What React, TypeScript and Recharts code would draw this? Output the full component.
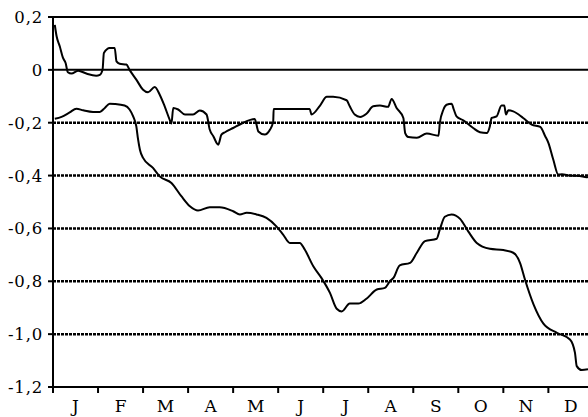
import React from 'react'
import { LineChart, Line, XAxis, YAxis, ReferenceLine } from 'recharts'

// x is measured in months from 1 January (0 = start of J, 11 = start of D)
const MONTHS = ['J', 'F', 'M', 'A', 'M', 'J', 'J', 'A', 'S', 'O', 'N', 'D']
const MONTH_STARTS = [0, 1, 2, 3, 4, 5, 6, 7, 8, 9, 10, 11]
const Y_TICKS = [-1.2, -1, -0.8, -0.6, -0.4, -0.2, 0, 0.2]
const DOTTED_LEVELS = [-1, -0.8, -0.6, -0.4, -0.2]
const SOLID_LEVELS = [0, 0.2]

const upperT = [
  0.04, 0.08, 0.15, 0.22, 0.28, 0.33, 0.41, 0.56, 0.74, 0.96, 1.04, 1.1, 1.13, 1.26, 1.37, 1.41,
  1.48, 1.63, 1.7, 1.85, 2.0, 2.11, 2.26, 2.37, 2.48, 2.59, 2.63, 2.67, 2.78, 2.93, 3.11, 3.26,
  3.41, 3.48, 3.56, 3.67, 3.74, 3.82, 4.0, 4.19, 4.48, 4.56, 4.7, 4.82, 4.89, 4.9, 5.04, 5.7,
  5.74, 5.93, 6.08, 6.22, 6.52, 6.59, 6.7, 6.82, 6.96, 7.11, 7.26, 7.44, 7.52, 7.63, 7.78, 7.82,
  7.89, 8.08, 8.3, 8.56, 8.59, 8.67, 8.74, 8.85, 8.9, 8.96, 9.11, 9.33, 9.48, 9.63, 9.7, 9.74,
  9.85, 9.96, 10.02, 10.06, 10.11, 10.22, 10.44, 10.63, 10.82, 10.93, 11.0, 11.11, 11.22, 11.3,
  11.48, 11.7, 11.85, 11.88,
]
const upperV = [
  0.17, 0.127, 0.089, 0.046, 0.026, -0.009, -0.014, -0.003, -0.014, -0.022, -0.019, 0.0, 0.064,
  0.083, 0.083, 0.032, 0.023, 0.02, 0.0, -0.037, -0.075, -0.085, -0.065, -0.094, -0.138, -0.188,
  -0.203, -0.144, -0.15, -0.169, -0.169, -0.154, -0.169, -0.226, -0.251, -0.283, -0.245, -0.236,
  -0.22, -0.203, -0.186, -0.233, -0.245, -0.226, -0.195, -0.148, -0.148, -0.148, -0.169, -0.135,
  -0.102, -0.102, -0.115, -0.138, -0.169, -0.178, -0.166, -0.138, -0.135, -0.14, -0.11, -0.144,
  -0.182, -0.239, -0.254, -0.257, -0.241, -0.249, -0.201, -0.15, -0.132, -0.128, -0.15, -0.176,
  -0.191, -0.22, -0.236, -0.239, -0.214, -0.182, -0.176, -0.135, -0.135, -0.169, -0.153, -0.157,
  -0.182, -0.207, -0.216, -0.251, -0.276, -0.34, -0.396, -0.395, -0.4, -0.402, -0.406, -0.405,
]

const lowerT = [
  0.04, 0.19, 0.37, 0.52, 0.67, 0.89, 1.04, 1.15, 1.26, 1.37, 1.59, 1.7, 1.78, 1.85, 1.89, 1.93,
  2.0, 2.22, 2.37, 2.63, 2.85, 3.04, 3.22, 3.48, 3.7, 4.0, 4.15, 4.3, 4.52, 4.74, 4.96, 5.11,
  5.26, 5.48, 5.59, 5.78, 5.96, 6.15, 6.3, 6.41, 6.59, 6.78, 6.96, 7.19, 7.37, 7.48, 7.56, 7.7,
  7.93, 8.08, 8.26, 8.52, 8.59, 8.7, 8.85, 9.04, 9.22, 9.41, 9.7, 10.0, 10.22, 10.37, 10.48,
  10.67, 10.89, 11.19, 11.48, 11.59, 11.63, 11.74, 11.88,
]
const lowerV = [
  -0.185, -0.178, -0.161, -0.147, -0.153, -0.159, -0.159, -0.144, -0.128, -0.129, -0.135, -0.15,
  -0.176, -0.214, -0.264, -0.302, -0.333, -0.371, -0.403, -0.428, -0.478, -0.516, -0.532, -0.52,
  -0.52, -0.535, -0.547, -0.541, -0.547, -0.56, -0.592, -0.623, -0.655, -0.655, -0.68, -0.743,
  -0.787, -0.844, -0.904, -0.914, -0.884, -0.884, -0.866, -0.831, -0.825, -0.8, -0.787, -0.74,
  -0.73, -0.692, -0.648, -0.639, -0.604, -0.556, -0.547, -0.564, -0.611, -0.655, -0.677, -0.682,
  -0.692, -0.73, -0.793, -0.887, -0.96, -0.995, -1.02, -1.07, -1.121, -1.136, -1.133,
]

const upper = upperT.map((t, i) => ({ t, v: upperV[i] }))
const lower = lowerT.map((t, i) => ({ t, v: lowerV[i] }))

const font = '"DejaVu Serif", serif'
const HALF_MONTH = 22.5

const fmtY = (v: number) => (v === 0 ? '0' : v.toFixed(1).replace('.', ','))

// month letter sits in the middle of its month, tick mark at its start
const MonthTick = (props: any) => {
  const { x, y, payload } = props
  return (
    <text x={x + HALF_MONTH} y={y + 19} textAnchor="middle" fill="#000" fontSize={17} fontFamily={font}>
      {MONTHS[payload.value]}
    </text>
  )
}

const ValueTick = (props: any) => {
  const { x, y, payload } = props
  return (
    <text x={x} y={y + 6} textAnchor="end" fill="#000" fontSize={16.5} fontFamily={font} letterSpacing={0.8}>
      {fmtY(payload.value)}
    </text>
  )
}

export default function App() {
  return (
    <div style={{ position: 'absolute', left: 0, top: 0, background: '#fff', fontFamily: font }}>
      <LineChart width={588} height={417} margin={{ top: 17, right: 0, bottom: 0, left: 0 }}>
        <XAxis
          type="number"
          dataKey="t"
          domain={[0, 11.88]}
          ticks={MONTH_STARTS}
          interval={0}
          height={30}
          tickSize={6}
          tickMargin={0}
          axisLine={{ stroke: '#000', strokeWidth: 2 }}
          tickLine={{ stroke: '#000', strokeWidth: 2 }}
          tick={<MonthTick />}
        />
        <YAxis
          type="number"
          domain={[-1.2, 0.2]}
          ticks={Y_TICKS}
          interval={0}
          width={53}
          tickSize={5}
          tickMargin={5}
          axisLine={{ stroke: '#000', strokeWidth: 2 }}
          tickLine={{ stroke: '#000', strokeWidth: 2 }}
          tick={<ValueTick />}
        />
        {DOTTED_LEVELS.map((y) => (
          <ReferenceLine key={y} y={y} stroke="#000" strokeWidth={2.5} strokeDasharray="3 1" />
        ))}
        {SOLID_LEVELS.map((y) => (
          <ReferenceLine key={y} y={y} stroke="#000" strokeWidth={2} />
        ))}
        <Line
          data={upper}
          dataKey="v"
          type="monotone"
          stroke="#000"
          strokeWidth={2}
          dot={false}
          isAnimationActive={false}
        />
        <Line
          data={lower}
          dataKey="v"
          type="monotone"
          stroke="#000"
          strokeWidth={2}
          dot={false}
          isAnimationActive={false}
        />
      </LineChart>
    </div>
  )
}
